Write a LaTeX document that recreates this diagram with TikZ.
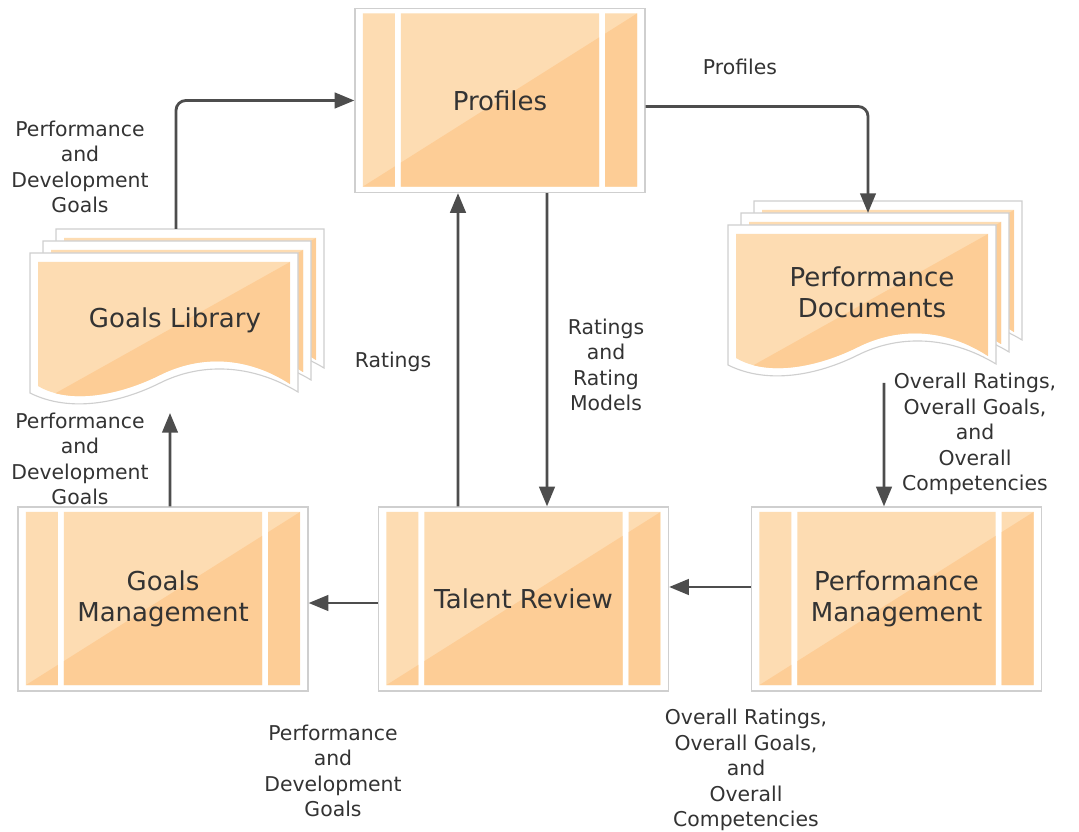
\documentclass[tikz,border=0pt]{standalone}
\usepackage{fontspec}
\setmainfont{DejaVu Sans}
\usetikzlibrary{arrows.meta}
\definecolor{peachlight}{HTML}{FDDCB2}
\definecolor{peachdark}{HTML}{FDCD96}
\definecolor{rimgray}{HTML}{CFCFCF}
\definecolor{flowgray}{HTML}{4D4D4D}
\definecolor{textgray}{HTML}{333333}
\newcommand{\biglbl}{\fontsize{18.5}{22}\selectfont}
\newcommand{\smalllbl}{\fontsize{14.5}{18.2}\selectfont}
\newcommand{\docpage}[2]{%
  \begin{scope}[shift={(#1,#2)}]
    \draw[rimgray, fill=white, line width=0.8pt] (0,0) -- (268,0) -- (268,139)
      .. controls (220,110) and (170,110) .. (130,130)
      .. controls (90,150) and (40,160) .. (0,140) -- cycle;
    \begin{scope}
      \clip (8,9) -- (260,9) -- (260,131)
        .. controls (217,103) and (170,102) .. (130,122)
        .. controls (90,142) and (40,152) .. (8,133) -- cycle;
      \fill[peachlight] (0,0) rectangle (268,160);
      \fill[peachdark] (8,150) -- (260,9) -- (260,160) -- (8,160) -- cycle;
    \end{scope}
  \end{scope}}
\newcommand{\docstack}[2]{%
  \docpage{#1+26}{#2-24}\docpage{#1+13}{#2-12}\docpage{#1}{#2}}
\newcommand{\pp}[2]{([xshift=#1cm,yshift=#2cm]ppsw)}
\tikzset{
  procbox/.style={draw=rimgray, line width=0.8pt, fill=white,
    minimum width=7.25cm, minimum height=4.6cm, inner sep=0pt,
    font=\biglbl, text=textgray, align=center,
    path picture={
      \coordinate (ppsw) at (path picture bounding box.south west);
      \begin{scope}
        \clip \pp{0.2}{0.15} rectangle \pp{1.0}{4.475}
          \pp{1.15}{0.15} rectangle \pp{6.1}{4.475}
          \pp{6.25}{0.15} rectangle \pp{7.05}{4.475};
        \fill[peachlight] \pp{0}{0} rectangle \pp{7.25}{4.6};
        \fill[peachdark] \pp{0.2}{0.15} -- \pp{7.05}{4.475} -- \pp{7.05}{0.15} -- cycle;
      \end{scope}}},
  doclbl/.style={font=\biglbl, text=textgray, align=center},
  note/.style={font=\smalllbl, text=textgray, align=center},
  flow/.style={draw=flowgray, line width=2pt, rounded corners=7pt,
    -{Triangle[length=14pt, width=11pt]}}
}
\begin{document}
\begin{tikzpicture}[x=0.025cm, y=-0.025cm]
  \useasboundingbox (0,0) rectangle (1079,832);
  \docstack{30}{253}
  \docstack{728}{225}
  \node[doclbl] (golib) at (175,320) {Goals Library};
  \node[doclbl] (perfdocs) at (872,292) {Performance\\Documents};
  \node[procbox] (prof) at (500,100.5) {Profiles};
  \node[procbox] (talent) at (523.5,599) {Talent Review};
  \node[procbox] (goalsmgmt) at (163,599) {Goals\\Management};
  \node[procbox] (perfmgmt) at (896.5,599) {Performance\\Management};
  \coordinate (libtop) at (176,229);
  \coordinate (libbot) at (170,413);
  \coordinate (docstop) at (868,213);
  \coordinate (docsbot) at (884,383);
  \node[note] (pdgtop) at (80,167) {Performance\\and\\Development\\Goals};
  \node[note] (profnote) at (740,67) {Profiles};
  \node[note] (ratnote) at (393,362) {Ratings};
  \node[note] (ratmodnote) at (606,365) {Ratings\\and\\Rating\\Models};
  \node[note] (ovrright) at (975,434) {Overall Ratings,\\Overall Goals,\\and\\Overall\\Competencies};
  \node[note] (pdgmid) at (80,459) {Performance\\and\\Development\\Goals};
  \node[note] (pdgbot) at (333,771) {Performance\\and\\Development\\Goals};
  \node[note] (ovrbot) at (746,770) {Overall Ratings,\\Overall Goals,\\and\\Overall\\Competencies};
  \begin{scope}[flow]
    \draw (libtop) |- (prof.west);
    \draw ([yshift=-0.15cm]prof.east) -| (docstop);
    \draw ([xshift=1.175cm]prof.south) -- ([xshift=0.5875cm]talent.north);
    \draw ([xshift=-1.6375cm]talent.north) -- ([xshift=-1.05cm]prof.south);
    \draw (docsbot) -- ([xshift=-0.3125cm]perfmgmt.north);
    \draw ([yshift=0.3cm]perfmgmt.west) -- ([yshift=0.3cm]talent.east);
    \draw ([yshift=-0.1cm]talent.west) -- ([yshift=-0.1cm]goalsmgmt.east);
    \draw ([xshift=0.175cm]goalsmgmt.north) -- (libbot);
  \end{scope}
\end{tikzpicture}
\end{document}
